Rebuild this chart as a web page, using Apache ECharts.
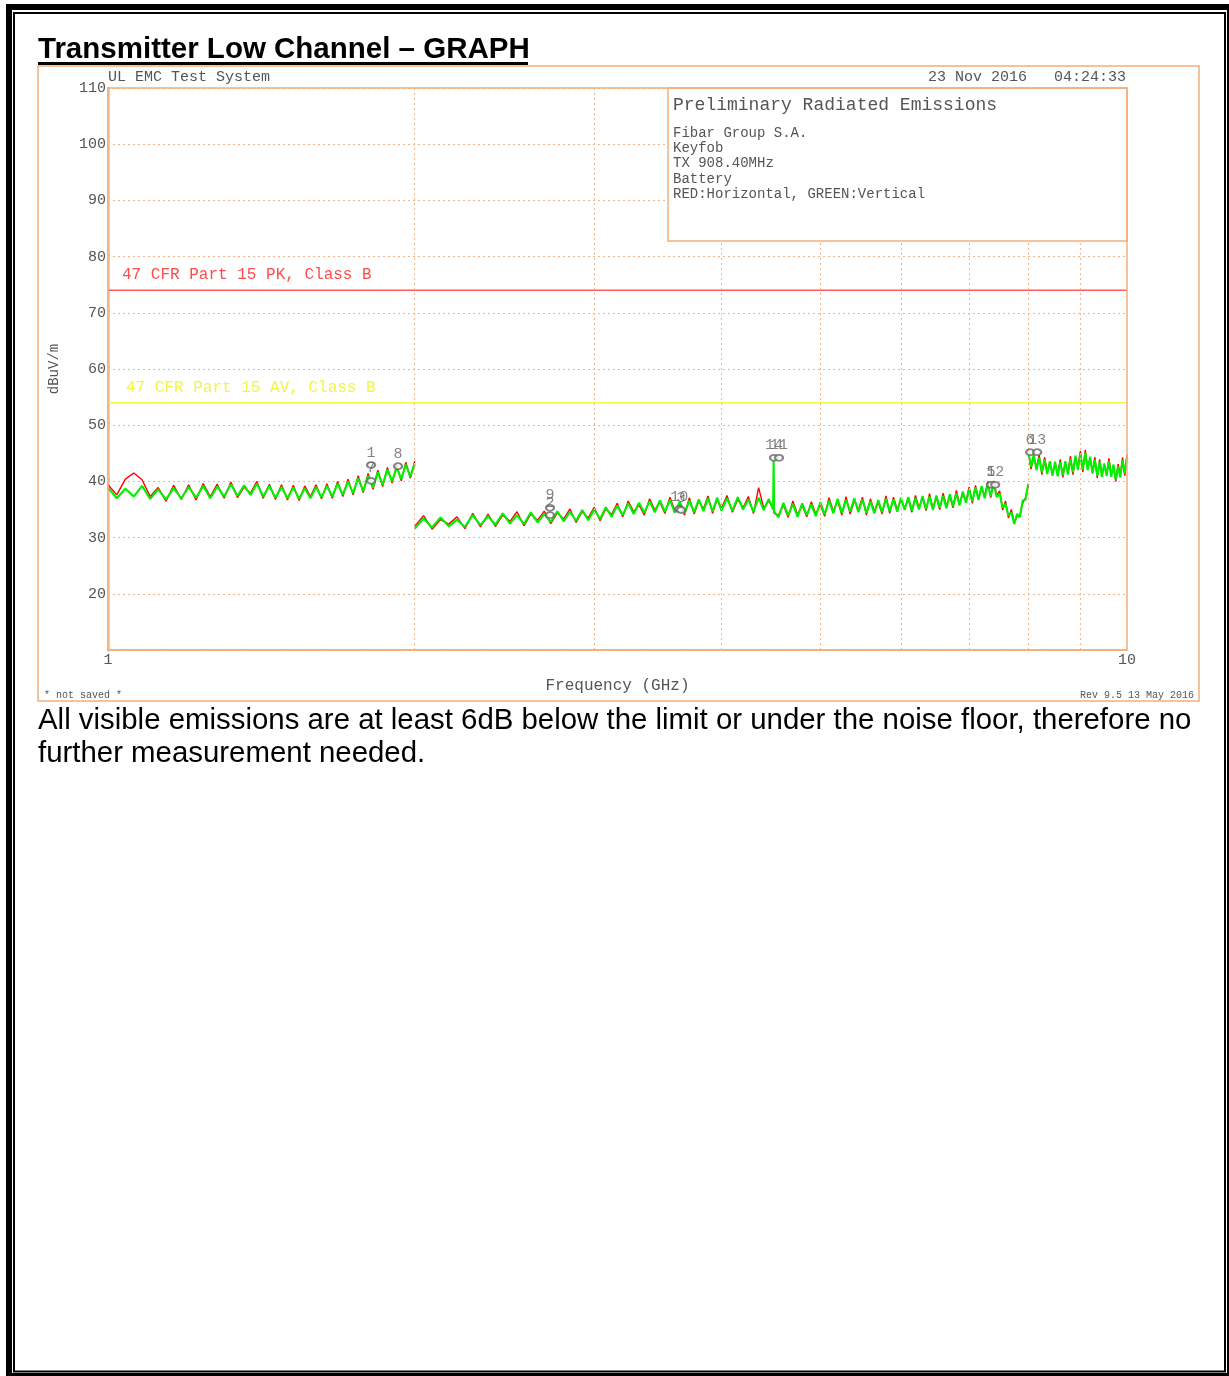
<!DOCTYPE html>
<html><head><meta charset="utf-8">
<script src="https://cdn.jsdelivr.net/npm/echarts@6/dist/echarts.min.js"></script>
<style>html,body{margin:0;padding:0;background:#fff;} #c{width:1229px;height:1376px;}</style>
</head><body><div id="c"></div>
<script>
// ---- Data (frequency in GHz, level in dBuV/m) ----
const freqA = [1.00,1.02,1.04,1.06,1.08,1.10,1.12,1.14,1.16,1.18,1.20,1.22,1.24,1.26,1.28,1.30,1.32,1.34,1.36,1.38,1.40,1.42,1.44,1.46,1.48,1.50,1.52,1.54,1.56,1.58,1.60,1.62,1.64,1.66,1.68,1.70,1.72,1.74,1.76,1.78,1.80,1.82,1.84,1.86,1.88,1.90,1.92,1.94,1.96,1.98,2.00];
const greenA = [38.9,37.0,38.7,37.3,39.2,36.9,38.6,36.8,38.8,37.0,
  39.0,37.1,39.2,37.0,39.1,37.3,39.5,37.4,39.3,37.6,
  39.6,37.3,39.2,37.1,39.0,37.0,38.9,36.9,38.8,37.0,
  39.0,37.2,39.2,37.3,39.6,37.6,40.0,37.9,40.6,38.3,
  41.0,38.9,41.6,39.4,42.1,40.0,42.5,40.4,43.0,40.9,43.2];
const redA = [39.4,37.6,40.4,41.5,40.3,37.3,38.9,36.5,39.3,36.8,
  39.4,36.7,39.6,37.3,39.5,37.0,39.9,37.1,39.0,37.9,
  40.0,37.0,39.5,36.8,39.4,36.7,39.3,36.6,39.2,37.3,
  39.4,36.9,39.6,37.0,40.0,37.3,40.4,37.6,41.0,38.0,
  41.4,38.6,42.0,39.1,42.5,39.7,42.9,40.1,43.4,40.6,43.6];

const freqB = [2.00,2.04,2.08,2.12,2.16,2.20,2.24,2.28,2.32,2.36,2.40,2.44,2.48,2.52,2.56,2.60,2.64,2.68,2.72,2.76,2.80,2.84,2.88,2.92,2.96,3.00,3.04,3.08,3.12,3.16,3.20,3.24,3.28,3.32,3.36,3.40,3.44,3.48,3.52,3.56,3.60,3.64,3.68,3.72,3.76,3.80,3.84,3.88,3.92,3.96,4.00,
  4.05,4.10,4.15,4.20,4.25,4.30,4.35,4.40,4.45,4.495,4.50,4.505,
  4.55,4.60,4.65,4.70,4.75,4.80,4.85,4.90,4.95,5.00,5.05,5.10,5.15,5.20,5.25,5.30,5.35,5.40,5.45,5.50,5.55,5.60,5.65,5.70,5.75,5.80,5.85,5.90,5.95,6.00,
  6.05,6.10,6.15,6.20,6.25,6.30,6.35,6.40,6.45,6.50,6.55,6.60,6.65,6.70,6.75,6.80,6.85,6.90,6.95,7.00,7.05,7.10,7.15,7.20,7.25,7.30,7.35,7.40,7.45,7.50,7.55,7.60,7.65,7.70,7.75,7.80,7.85,7.90,7.95,8.00];
const greenB = [31.6,33.4,31.8,33.6,32.0,33.2,31.9,34.0,32.2,33.8,
  32.3,34.3,32.5,34.0,32.4,34.5,32.7,34.2,32.8,34.7,
  32.9,34.6,33.0,34.9,33.1,35.0,33.3,35.4,33.7,35.7,
  34.0,36.1,34.2,36.2,34.4,36.5,34.5,36.6,34.6,36.7,
  34.4,36.4,34.3,36.6,34.5,36.8,34.7,37.0,34.6,37.1,34.8,
  37.0,34.8,37.2,35.0,36.8,34.6,37.1,34.9,36.9,35.0,44.0,34.6,
  33.6,36.2,33.9,36.0,33.7,36.1,34.0,35.9,33.8,36.3,
  34.1,36.6,34.3,36.9,34.4,36.7,34.6,37.0,34.5,36.8,
  34.4,36.5,34.3,36.7,34.5,36.9,34.7,36.8,34.6,37.1,
  34.9,37.2,34.8,37.0,35.0,37.4,35.1,37.3,34.9,37.5,
  35.3,37.4,35.2,37.7,35.6,37.9,35.7,38.2,36.2,38.6,
  36.4,38.9,36.7,39.2,37.0,39.6,37.4,39.6,37.2,37.8,
  35.3,36.0,33.9,34.5,32.4,34.2,33.6,36.6,36.7,39.6];
const redB = [32.0,33.9,31.5,33.2,32.4,33.7,31.6,34.3,31.9,34.2,
  32.0,34.0,32.9,34.6,32.1,34.2,33.1,34.7,32.5,34.4,
  33.3,35.1,32.7,34.6,33.5,35.4,33.0,35.1,34.1,36.1,
  33.7,36.5,34.6,35.8,34.0,36.9,34.9,36.3,34.3,37.2,
  34.8,36.0,34.0,37.1,34.2,36.5,35.1,37.4,34.3,36.8,35.2,
  37.5,34.5,36.8,35.3,37.3,34.3,38.9,35.3,36.5,35.3,36.0,34.3,
  34.0,35.8,33.6,36.5,34.1,35.7,33.7,36.4,34.2,35.9,
  33.8,37.1,34.7,36.5,34.0,37.3,34.2,36.6,34.9,37.2,
  34.0,36.9,34.7,36.3,34.2,37.4,34.3,37.2,35.0,36.7,
  35.3,36.8,34.5,37.5,35.3,37.0,34.8,37.8,35.2,37.1,
  35.0,37.9,35.6,37.3,35.3,38.4,36.0,37.8,36.5,39.0,
  36.1,39.3,37.0,38.8,37.4,40.0,37.1,40.1,37.5,38.3,
  34.9,36.5,33.5,35.0,32.7,33.8,34.0,36.1,37.1,39.2];

const freqC = [8.00,8.05,8.10,8.15,8.20,8.25,8.30,8.35,8.40,8.45,8.50,8.55,8.60,8.65,8.70,8.75,8.80,8.85,8.90,8.95,9.00,9.05,9.10,9.15,9.20,9.25,9.30,9.35,9.40,9.45,9.50,9.55,9.60,9.65,9.70,9.75,9.80,9.85,9.90,9.95,10.00];
const greenC = [45.3,42.6,44.8,42.0,44.2,41.6,43.9,41.3,43.6,41.0,
  43.5,40.9,43.4,41.1,43.6,41.2,44.0,41.6,44.6,42.0,
  44.9,42.1,45.1,42.0,44.4,41.4,43.8,41.0,43.5,40.8,
  43.2,41.0,43.6,40.8,43.0,40.3,42.6,40.7,43.8,41.4,44.3];
const redC = [45.7,42.2,44.3,42.5,44.7,41.2,44.3,41.8,43.2,41.5,
  43.0,41.4,43.9,40.7,43.2,41.6,44.5,41.2,44.2,42.5,
  45.4,41.7,45.6,42.4,44.0,41.8,44.3,40.6,43.9,41.3,
  42.8,41.4,44.1,41.2,42.6,40.0,43.1,41.1,44.3,41.0,44.8];

const markerFreq = [1.812,1.812,1.926,2.715,2.715,3.635,3.651,4.504,4.555,7.356,7.424,8.034,8.163];
const markerLevel = [42.9,40.1,42.7,35.3,34.0,35.1,34.9,44.2,44.2,39.4,39.4,45.2,45.2];
const markerLabel = ['1','7','8','9','2','10','3','14','11','5','12','6','13'];

const limitFreq = [1, 10];
const pkLimit = 74;
const avLimit = 54;
const gridFreqs = [2,3,4,5,6,7,8,9];
const yTicks = {min: 10, max: 110, step: 10};

// ---- Styling ----
const ORANGE = '#f2ae7c';
const GRIDC = '#f5b485';
const MONO = '"Liberation Mono", "DejaVu Sans Mono", monospace';
const GRAY = '#555';
const SANS = '"Liberation Sans", Arial, sans-serif';

const pairs = (fs, vs) => fs.map((f, i) => [f, vs[i]]);
const traceSeries = (data, color, z, w) => ({
  type: 'line', data, showSymbol: false, symbol: 'none', z, silent: true,
  lineStyle: {color, width: w}, animation: false
});

const chart = echarts.init(document.getElementById('c'), null, {renderer: 'canvas'});

const txt = (text, x, y, size, fill, align) => ({
  type: 'text', x, y, z: 60,
  style: {text, font: size + 'px ' + MONO, fill, textAlign: align || 'left', verticalAlign: 'middle'}
});

chart.setOption({
  animation: false,
  backgroundColor: '#fff',
  grid: {left: 108, top: 88, width: 1019, height: 562, containLabel: false},
  xAxis: {
    type: 'log', logBase: 10, min: 1, max: 10,
    name: 'Frequency (GHz)', nameLocation: 'middle', nameGap: 28,
    nameTextStyle: {fontFamily: MONO, fontSize: 16, color: GRAY},
    axisLine: {show: true, lineStyle: {color: ORANGE, width: 1.5}},
    axisTick: {show: false}, minorTick: {show: false},
    splitLine: {show: false},
    axisLabel: {fontFamily: MONO, fontSize: 15, color: GRAY, margin: 3}
  },
  yAxis: {
    type: 'value', min: yTicks.min, max: yTicks.max, interval: yTicks.step,
    name: 'dBuV/m', nameLocation: 'middle', nameGap: 47, nameRotate: 90,
    nameTextStyle: {fontFamily: MONO, fontSize: 14, color: GRAY},
    axisLine: {show: true, lineStyle: {color: '#f6c8a4', width: 3}},
    axisTick: {show: false},
    splitLine: {show: true, lineStyle: {color: GRIDC, type: [2, 3], width: 1}},
    axisLabel: {fontFamily: MONO, fontSize: 15, color: GRAY, margin: 2,
      formatter: v => (v === yTicks.min ? '' : String(v))}
  },
  series: [
    {
      type: 'line', name: 'PK limit', data: limitFreq.map(f => [f, pkLimit]),
      showSymbol: false, symbol: 'none', silent: true, z: 2,
      lineStyle: {color: '#ff5c5c', width: 1.5},
      markLine: {
        silent: true, symbol: ['none', 'none'], label: {show: false},
        lineStyle: {color: GRIDC, type: [2, 3], width: 1},
        data: gridFreqs.map(f => ({xAxis: f}))
      }
    },
    {
      type: 'line', name: 'AV limit', data: limitFreq.map(f => [f, avLimit]),
      showSymbol: false, symbol: 'none', silent: true, z: 2,
      lineStyle: {color: '#f6f64a', width: 1.5}
    },
    traceSeries(pairs(freqA, redA), '#ff0000', 3, 1.4),
    traceSeries(pairs(freqB, redB), '#ff0000', 3, 1.4),
    traceSeries(pairs(freqC, redC), '#ff0000', 3, 1.4),
    traceSeries(pairs(freqA, greenA), '#00f000', 4, 2.1),
    traceSeries(pairs(freqB, greenB), '#00f000', 4, 2.1),
    traceSeries(pairs(freqC, greenC), '#00f000', 4, 2.1),
    {
      type: 'scatter', name: 'markers', z: 5, silent: true,
      data: markerFreq.map((f, i) => ({value: [f, markerLevel[i]], name: markerLabel[i]})),
      symbol: 'emptyCircle', symbolSize: [8, 6],
      itemStyle: {color: '#666', borderColor: '#666', borderWidth: 1},
      label: {show: true, position: 'top', distance: 1, formatter: p => p.name,
        fontFamily: MONO, fontSize: 15, color: '#666'}
    }
  ],
  graphic: [
    // page frames
    {type: 'rect', z: 70, shape: {x: 9, y: 7, width: 1221, height: 1369}, style: {fill: 'none', stroke: '#000', lineWidth: 6}},
    {type: 'rect', z: 70, shape: {x: 14, y: 13, width: 1211, height: 1358.5}, style: {fill: 'none', stroke: '#000', lineWidth: 2}},
    // title + underline
    {type: 'text', x: 38, y: 50, z: 60, style: {text: 'Transmitter Low Channel \u2013 GRAPH', font: 'bold 29.5px ' + SANS, fill: '#000', textAlign: 'left', verticalAlign: 'middle'}},
    {type: 'rect', z: 60, shape: {x: 38, y: 62, width: 490, height: 3}, style: {fill: '#000'}},
    // chart outer frame
    {type: 'rect', z: 60, shape: {x: 38, y: 66, width: 1161, height: 635}, style: {fill: 'none', stroke: ORANGE, lineWidth: 1.5}},
    // plot frame
    {type: 'rect', z: 60, shape: {x: 108, y: 88, width: 1019, height: 562}, style: {fill: 'none', stroke: ORANGE, lineWidth: 1.5}},
    // annotation box
    {type: 'rect', z: 55, shape: {x: 668, y: 88, width: 459, height: 153}, style: {fill: '#fff', stroke: ORANGE, lineWidth: 1.5}},
    txt('Preliminary Radiated Emissions', 673, 105, 18, GRAY),
    txt('Fibar Group S.A.', 673, 133, 14, GRAY),
    txt('Keyfob', 673, 148, 14, GRAY),
    txt('TX 908.40MHz', 673, 163, 14, GRAY),
    txt('Battery', 673, 179, 14, GRAY),
    txt('RED:Horizontal, GREEN:Vertical', 673, 194, 14, GRAY),
    // header texts
    txt('UL EMC Test System', 108, 77, 15, GRAY),
    txt('23 Nov 2016   04:24:33', 1126, 77, 15, GRAY, 'right'),
    // limit labels
    txt('47 CFR Part 15 PK, Class B', 122, 275, 16, '#ff4a4a'),
    txt('47 CFR Part 15 AV, Class B', 126, 388, 16, '#f4f444'),
    // footer texts
    txt('* not saved *', 44, 695, 10, GRAY),
    txt('Rev 9.5 13 May 2016', 1194, 695, 10, GRAY, 'right'),
    // paragraph
    {type: 'text', x: 38, y: 721, z: 60, style: {text: 'All visible emissions are at least 6dB below the limit or under the noise floor, therefore no', font: '29.4px ' + SANS, fill: '#000', textAlign: 'left', verticalAlign: 'middle'}},
    {type: 'text', x: 38, y: 754, z: 60, style: {text: 'further measurement needed.', font: '29.4px ' + SANS, fill: '#000', textAlign: 'left', verticalAlign: 'middle'}}
  ]
});
</script>
</body></html>
